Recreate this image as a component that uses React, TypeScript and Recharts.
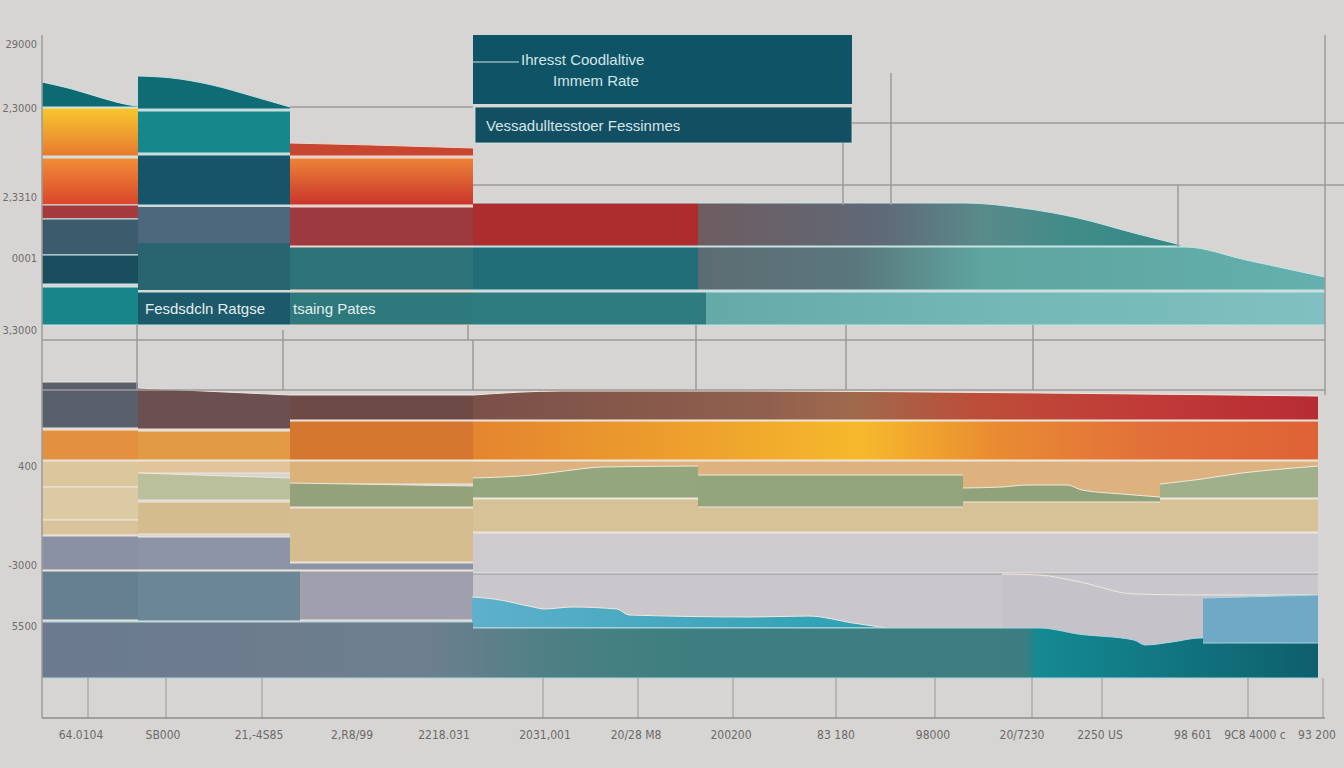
import React from 'react';
import { ComposedChart, Area, XAxis, YAxis, ReferenceLine, ReferenceArea } from 'recharts';

// x: periods from the left axis, y: index level. each band point = [x, low, high]
type Pt = [number, number, number];
type Band = { id: string; pts: Pt[] };

const yTicks = [674, 610, 521, 460, 388, 252, 153, 92];
const yTickLabels = ['29000', '2,3000', '2,3310', '0001', '3,3000', '400', '-3000', '5500'];
const xTicks = [39, 121, 217, 310, 402, 503, 594, 689, 794, 891, 980, 1058, 1151, 1213, 1275];
const xTickLabels = ['64.0104', 'SB000', '21,-4S85', '2,R8/99', '2218.031', '2031,001', '20/28 M8', '200200', '83 180', '98000', '20/7230', '2250 US', '98 601', '9C8 4000 c', '93 200'];

const topColA: Band[] = [
  { id: 'tA1', pts: [[0, 611, 636], [30, 611, 629], [60, 611, 620], [88, 611, 613], [96, 611, 612]] },
  { id: 'tA2', pts: [[0, 562, 610], [96, 562, 610]] },
  { id: 'tA3', pts: [[0, 513, 560], [96, 513, 560]] },
  { id: 'tA4', pts: [[0, 499, 513], [96, 499, 513]] },
  { id: 'tA5', pts: [[0, 463, 499], [96, 463, 499]] },
  { id: 'tA6', pts: [[0, 434, 463], [96, 434, 463]] },
  { id: 'tA7', pts: [[0, 393, 431], [96, 393, 431]] },
];
const topColB: Band[] = [
  { id: 'tB1', pts: [[96, 609, 642], [130, 609, 640], [170, 609, 633], [210, 609, 622], [248, 609, 611]] },
  { id: 'tB2', pts: [[96, 565, 607], [248, 565, 607]] },
  { id: 'tB3', pts: [[96, 513, 563], [248, 513, 563]] },
  { id: 'tB4', pts: [[96, 475, 511], [248, 475, 511]] },
  { id: 'tB5', pts: [[96, 428, 475], [248, 428, 475]] },
  { id: 'tB6', pts: [[96, 393, 426], [248, 393, 426]] },
];
const topColC: Band[] = [
  { id: 'tC1', pts: [[248, 562, 575], [330, 562, 573], [431, 562, 570]] },
  { id: 'tC2', pts: [[248, 513, 560], [431, 513, 560]] },
  { id: 'tC3', pts: [[248, 472, 511], [431, 472, 511]] },
  { id: 'tC4', pts: [[248, 428, 471], [431, 428, 471]] },
  { id: 'tC5', pts: [[248, 393, 426], [431, 393, 426]] },
];
const topColD: Band[] = [
  { id: 'tD1', pts: [[431, 472, 515], [656, 472, 515]] },
  { id: 'tD2', pts: [[431, 428, 471], [656, 428, 471]] },
  { id: 'tD3', pts: [[431, 393, 426], [664, 393, 426]] },
];
const topColE: Band[] = [
  { id: 'tE1', pts: [[656, 472, 515], [923, 472, 515], [980, 472, 510], [1036, 472, 500], [1092, 472, 485], [1143, 472, 472]] },
  { id: 'tE2', pts: [[656, 428, 471], [1143, 428, 471], [1204, 428, 458], [1283, 428, 441]] },
  { id: 'tE3', pts: [[664, 393, 426], [1283, 393, 426]] },
];

const botColA: Band[] = [
  { id: 'bA1', pts: [[0, 290, 336], [96, 290, 336]] },
  { id: 'bA2', pts: [[0, 258, 288], [96, 258, 288]] },
  { id: 'bA3', pts: [[0, 231, 257], [96, 231, 257]] },
  { id: 'bA4', pts: [[0, 198, 231], [96, 198, 231]] },
  { id: 'bA5', pts: [[0, 183, 198], [96, 183, 198]] },
  { id: 'bA6', pts: [[0, 148, 182], [96, 148, 182]] },
  { id: 'bA7', pts: [[0, 98, 147], [96, 98, 147]] },
];
const botColB: Band[] = [
  { id: 'bB1', pts: [[96, 289, 330], [248, 289, 323]] },
  { id: 'bB2', pts: [[96, 258, 287], [248, 258, 287]] },
  { id: 'bB3', pts: [[96, 245, 257], [248, 245, 257]] },
  { id: 'bB4', pts: [[96, 218, 245], [248, 218, 240]] },
  { id: 'bB5', pts: [[96, 184, 216], [248, 184, 216]] },
  { id: 'bB6', pts: [[96, 148, 181], [248, 148, 181]] },
  { id: 'bB7', pts: [[96, 97, 147], [258, 97, 147]] },
];
const botColC: Band[] = [
  { id: 'bC1', pts: [[248, 298, 323], [431, 298, 323]] },
  { id: 'bC2', pts: [[248, 258, 297], [431, 258, 297]] },
  { id: 'bC3', pts: [[248, 234, 257], [431, 234, 257]] },
  { id: 'bC4', pts: [[248, 211, 235], [431, 211, 232]] },
  { id: 'bC5', pts: [[248, 156, 210], [431, 156, 210]] },
  { id: 'bC6', pts: [[248, 148, 155], [431, 148, 155]] },
  { id: 'bC7', pts: [[258, 98, 147], [431, 98, 147]] },
];
const botRight: Band[] = [
  { id: 'bR1', pts: [[431, 298, 323], [520, 298, 327], [700, 298, 327], [1000, 298, 325], [1276, 298, 322]] },
  { id: 'bR2', pts: [[431, 258, 297], [1276, 258, 297]] },
  { id: 'bR3', pts: [[431, 220, 257], [1276, 220, 257]] },
  { id: 'bR4', pts: [[431, 186, 219], [1276, 186, 219]] },
  { id: 'sD', pts: [[431, 220, 240], [490, 220, 243], [530, 220, 248], [560, 220, 251], [656, 220, 252]] },
  { id: 'sE', pts: [[656, 211, 243], [921, 211, 243]] },
  { id: 'sF', pts: [[921, 216, 230], [960, 216, 231], [985, 216, 233], [1025, 216, 233], [1040, 216, 228], [1080, 216, 224], [1118, 216, 221]] },
  { id: 'sG', pts: [[1118, 220, 234], [1160, 220, 239], [1200, 220, 245], [1240, 220, 249], [1276, 220, 252]] },
  { id: 'bR5', pts: [[431, 145, 185], [1276, 145, 185]] },
  { id: 'bR6', pts: [[431, 70, 144], [1276, 70, 144]] },
  { id: 'bR7', pts: [[960, 70, 144], [997, 70, 143], [1038, 70, 136], [1092, 70, 124], [1159, 70, 123], [1276, 70, 123]] },
  { id: 'bW', pts: [[430, 90, 121], [452, 90, 119], [491, 90, 111], [502, 90, 109], [530, 90, 111], [575, 90, 109], [587, 90, 103], [710, 90, 101], [766, 90, 102], [811, 90, 95], [845, 90, 90]] },
];
const botLow: Band[] = [
  { id: 'bL1', pts: [[0, 40, 96], [431, 40, 96]] },
  { id: 'bL2', pts: [[431, 40, 90], [998, 40, 90], [1036, 40, 84], [1092, 40, 78], [1103, 40, 73], [1130, 40, 76], [1158, 40, 80], [1276, 40, 76]] },
  { id: 'bBox', pts: [[1161, 75, 120], [1276, 75, 123]] },
];

// guide lines: [x, y0, y1] and [y, x0, x1]
const gridV: Pt[] = [[95, 393, 328], [241, 388, 328], [426, 393, 378], [431, 378, 328], [654, 393, 328], [804, 393, 328], [991, 393, 328], [1283, 683, 323], [801, 575, 513], [849, 645, 513], [1136, 533, 471]];
const gridH: Pt[] = [[378, 0, 1283], [328, 0, 1283], [595, 810, 1302], [533, 431, 1302], [611, 248, 431]];
const axisTicks = [46, 124, 220, 501, 596, 691, 794, 893, 990, 1060, 1206, 1281];

const fills: Record<string, string> = {
  tA1: '#0e6a72', tA2: 'url(#gTopYellow)', tA3: 'url(#gTopOrangeA)', tA4: '#a43a3d', tA5: '#3c5b6c', tA6: '#184e5e', tA7: '#18858b',
  tB1: '#0f6b74', tB2: '#16888c', tB3: '#16546a', tB4: '#4d677d', tB5: '#296471', tB6: '#1c596a',
  tC1: '#c8452f', tC2: 'url(#gTopOrangeC)', tC3: '#9c3a3f', tC4: '#2e7379', tC5: '#2d797d',
  tD1: '#ad2d2e', tD2: '#216e78', tD3: '#2e7c7f',
  tE1: 'url(#gTopE1)', tE2: 'url(#gTopE2)', tE3: 'url(#gTopE3)',
  bA1: '#59606c', bA2: '#e39140', bA3: '#dcc69d', bA4: '#dccaa5', bA5: '#d8c39a', bA6: '#8b91a5', bA7: '#67808f',
  bB1: '#6b4f51', bB2: '#e39a45', bB3: '#dfc49c', bB4: '#b9c09b', bB5: '#d5bc8f', bB6: '#8e94a8', bB7: '#6b8696',
  bC1: '#6e4a47', bC2: '#d5772f', bC3: '#dcb27b', bC4: '#94a27a', bC5: '#d5bd8f', bC6: '#8d93a6', bC7: '#a09fad',
  bR1: 'url(#gBotBrown)', bR2: 'url(#gBotOrange)', bR3: '#ddb27f', bR4: '#d7c197',
  sD: '#93a67c', sE: '#92a57b', sF: '#8fa27a', sG: '#a0b08a',
  bR5: '#cecbcf', bR6: '#c9c6cc', bR7: '#c5c2c9', bW: 'url(#gBlueWave)',
  bL1: 'url(#gBotLow)', bL2: 'url(#gBotLow)', bBox: '#6fa9c6',
};
const strokeOverride: Record<string, string> = { bR6: '#9a98a0', tB4: 'none', tB5: 'none' };

const FONT = "'DejaVu Sans Condensed', 'Liberation Sans Narrow', sans-serif";
const TEXT_FONT = "'Liberation Sans', Arial, sans-serif";

const renderBands = (bands: Band[], stroke: string) =>
  bands.map((b) => (
    <Area
      key={b.id}
      data={b.pts.map(([x, lo, hi]) => ({ x, v: [lo, hi] }))}
      dataKey="v"
      type={b.pts.length > 2 ? 'monotone' : 'linear'}
      fill={fills[b.id]}
      fillOpacity={1}
      stroke={strokeOverride[b.id] ?? stroke}
      strokeWidth={1}
      dot={false}
      activeDot={false}
      legendType="none"
      isAnimationActive={false}
    />
  ));

const TitleLabel = (props: any) => {
  const { x, y } = props.viewBox;
  return (
    <g fontFamily={TEXT_FONT} fontSize={15} fill="#d3e4e7">
      <line x1={x} x2={x + 46} y1={y + 27} y2={y + 27} stroke="#cfe2e5" strokeWidth={1.2} />
      <text x={x + 48} y={y + 30}>Ihresst Coodlaltive</text>
      <text x={x + 80} y={y + 51}>Immem Rate</text>
    </g>
  );
};

const SubLabel = (props: any) => {
  const { x, y } = props.viewBox;
  return (
    <text x={x + 11} y={y + 24} fontFamily={TEXT_FONT} fontSize={15} fill="#d3e4e7">
      Vessadulltesstoer Fessinmes
    </text>
  );
};

export default function App() {
  return (
    <div style={{ position: 'absolute', left: 0, top: 0, width: 1344, height: 768, background: '#d7d5d3' }}>
      <ComposedChart width={1344} height={768} margin={{ top: 35, right: 19, left: 0, bottom: 0 }}>
        <defs>
          <linearGradient id="gTopYellow" x1="0" y1="0" x2="0" y2="1">
            <stop offset="0" stopColor="#f8c62c" />
            <stop offset="0.6" stopColor="#ee9a30" />
            <stop offset="1" stopColor="#e8782c" />
          </linearGradient>
          <linearGradient id="gTopOrangeA" x1="0" y1="0" x2="0" y2="1">
            <stop offset="0" stopColor="#f28e36" />
            <stop offset="1" stopColor="#d9452b" />
          </linearGradient>
          <linearGradient id="gTopOrangeC" x1="0" y1="0" x2="0" y2="1">
            <stop offset="0" stopColor="#ee8437" />
            <stop offset="1" stopColor="#c9342c" />
          </linearGradient>
          <linearGradient id="gTopE1" gradientUnits="userSpaceOnUse" x1="698" y1="0" x2="1325" y2="0">
            <stop offset="0" stopColor="#6e5c60" />
            <stop offset="0.3" stopColor="#5f6a78" />
            <stop offset="0.45" stopColor="#5a8a8a" />
            <stop offset="0.6" stopColor="#3f8c89" />
            <stop offset="1" stopColor="#2f7f80" />
          </linearGradient>
          <linearGradient id="gTopE2" gradientUnits="userSpaceOnUse" x1="698" y1="0" x2="1325" y2="0">
            <stop offset="0" stopColor="#5d6c74" />
            <stop offset="0.25" stopColor="#5a777b" />
            <stop offset="0.45" stopColor="#5fa49f" />
            <stop offset="1" stopColor="#63b0ae" />
          </linearGradient>
          <linearGradient id="gTopE3" gradientUnits="userSpaceOnUse" x1="706" y1="0" x2="1325" y2="0">
            <stop offset="0" stopColor="#65a9a9" />
            <stop offset="0.5" stopColor="#74b8b8" />
            <stop offset="1" stopColor="#80c0c0" />
          </linearGradient>
          <linearGradient id="gBotBrown" gradientUnits="userSpaceOnUse" x1="473" y1="0" x2="1318" y2="0">
            <stop offset="0" stopColor="#7a5049" />
            <stop offset="0.35" stopColor="#91604d" />
            <stop offset="0.45" stopColor="#a0694d" />
            <stop offset="0.6" stopColor="#bd4d38" />
            <stop offset="0.8" stopColor="#c13a38" />
            <stop offset="1" stopColor="#b72c33" />
          </linearGradient>
          <linearGradient id="gBotOrange" gradientUnits="userSpaceOnUse" x1="473" y1="0" x2="1318" y2="0">
            <stop offset="0" stopColor="#e4852f" />
            <stop offset="0.3" stopColor="#efa52d" />
            <stop offset="0.46" stopColor="#f6b92c" />
            <stop offset="0.62" stopColor="#e98b32" />
            <stop offset="0.8" stopColor="#e2703a" />
            <stop offset="1" stopColor="#df6235" />
          </linearGradient>
          <linearGradient id="gBlueWave" gradientUnits="userSpaceOnUse" x1="473" y1="0" x2="890" y2="0">
            <stop offset="0" stopColor="#5eb0cc" />
            <stop offset="1" stopColor="#2ba0b2" />
          </linearGradient>
          <linearGradient id="gBotLow" gradientUnits="userSpaceOnUse" x1="42" y1="0" x2="1318" y2="0">
            <stop offset="0" stopColor="#6b7a8e" />
            <stop offset="0.3" stopColor="#6e7f8f" />
            <stop offset="0.4" stopColor="#4d8084" />
            <stop offset="0.5" stopColor="#3d7f80" />
            <stop offset="0.77" stopColor="#3c7d7f" />
            <stop offset="0.78" stopColor="#148a92" />
            <stop offset="1" stopColor="#0e5f6d" />
          </linearGradient>
        </defs>

        <XAxis
          type="number"
          dataKey="x"
          domain={[0, 1283]}
          allowDataOverflow
          ticks={xTicks}
          interval={0}
          tickFormatter={(v: number) => xTickLabels[xTicks.indexOf(v)] ?? ''}
          tick={{ fontSize: 12, fill: '#6c6a68', fontFamily: FONT }}
          tickLine={false}
          tickSize={0}
          tickMargin={12}
          axisLine={{ stroke: '#8f8d8b', strokeWidth: 1.5 }}
          height={50}
        />
        <YAxis
          type="number"
          domain={[0, 683]}
          allowDataOverflow
          ticks={yTicks}
          interval={0}
          tickFormatter={(v: number) => yTickLabels[yTicks.indexOf(v)] ?? ''}
          tick={{ fontSize: 11, fill: '#6f6d6b', fontFamily: FONT }}
          tickLine={false}
          tickSize={0}
          tickMargin={5}
          axisLine={{ stroke: '#9d9b99', strokeWidth: 1.5 }}
          width={42}
        />

        {gridH.map(([y, x0, x1], i) => (
          <ReferenceLine key={'h' + i} segment={[{ x: x0, y }, { x: x1, y }]} stroke="#9c9a98" strokeWidth={1.5} ifOverflow="visible" />
        ))}
        {gridV.map(([x, y0, y1], i) => (
          <ReferenceLine key={'v' + i} segment={[{ x, y: y0 }, { x, y: y1 }]} stroke="#9c9a98" strokeWidth={1.5} ifOverflow="visible" />
        ))}
        {axisTicks.map((x, i) => (
          <ReferenceLine key={'t' + i} segment={[{ x, y: 40 }, { x, y: 0 }]} stroke="#a3a19f" strokeWidth={1.2} ifOverflow="visible" />
        ))}

        {renderBands(topColA, '#cde6e6')}
        {renderBands(topColB, '#bfe2e3')}
        {renderBands(topColC, '#f0d6c8')}
        {renderBands(topColD, '#c6e4e4')}
        {renderBands(topColE, '#c3e6e6')}
        {renderBands(botColA, '#efe6da')}
        {renderBands(botColB, '#efe6da')}
        {renderBands(botColC, '#efe6da')}
        {renderBands(botRight, '#f1e9de')}
        {renderBands(botLow, '#a9d6e2')}

        <ReferenceArea x1={431} x2={810} y1={614} y2={683} fill="#0f5466" fillOpacity={1} stroke="none" label={TitleLabel} />
        <ReferenceArea x1={433} x2={810} y1={575} y2={611} fill="#134f63" fillOpacity={1} stroke="#d9e6e8" strokeWidth={0.8} label={SubLabel} />
        <ReferenceArea x1={98} x2={240} y1={393} y2={426} fill="none" stroke="none"
          label={{ value: 'Fesdsdcln Ratgse', position: 'insideLeft', fill: '#e4eeee', fontSize: 15, fontFamily: TEXT_FONT }} />
        <ReferenceArea x1={246} x2={420} y1={393} y2={426} fill="none" stroke="none"
          label={{ value: 'tsaing Pates', position: 'insideLeft', fill: '#e4eeee', fontSize: 15, fontFamily: TEXT_FONT }} />
      </ComposedChart>
    </div>
  );
}
